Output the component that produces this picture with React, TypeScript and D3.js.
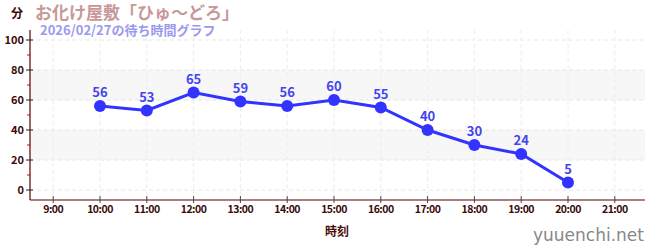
import React from "react";
import * as d3 from "d3";

const hours = ["9:00","10:00","11:00","12:00","13:00","14:00","15:00","16:00","17:00","18:00","19:00","20:00","21:00"];
const dataHours = [10, 11, 12, 13, 14, 15, 16, 17, 18, 19, 20];
const waits = [56, 53, 65, 59, 56, 60, 55, 40, 30, 24, 5];
const yTicks = [0, 20, 40, 60, 80, 100];
const yMinor = [10, 30, 50, 70, 90];
const bands = [[20, 40], [60, 80]];

const W = 650, H = 250;
const font = "'Noto Sans CJK JP', 'Noto Sans', sans-serif";

export default function App() {
  const x = d3.scaleLinear().domain([9, 21]).range([53.2, 614.8]);
  const y = d3.scaleLinear().domain([0, 100]).range([190, 40]);
  const line = d3.line<number>().x((_, i) => x(dataHours[i])).y((d) => y(d));
  const axisColor = "#5a0000";
  const hourVals = hours.map((_, i) => 9 + i);
  return (
    <svg width={W} height={H} style={{ position: "absolute", left: 0, top: 0, background: "#fff" }} fontFamily={font}>
      {bands.map(([a, b], i) => (
        <rect key={i} x={30} width={615} y={y(b)} height={y(a) - y(b)} fill="#f7f7f7" />
      ))}
      {yTicks.map((t) => (
        <line key={"gy" + t} x1={30} x2={645} y1={y(t)} y2={y(t)} stroke="#e6e6e6" strokeDasharray="4,3" />
      ))}
      {hourVals.map((h) => (
        <line key={"gx" + h} x1={x(h)} x2={x(h)} y1={30} y2={200} stroke="#ececec" strokeDasharray="4,3" />
      ))}
      {/* axes */}
      <line x1={30} x2={30} y1={30} y2={200} stroke={axisColor} strokeWidth={1.2} />
      <line x1={30} x2={645} y1={200} y2={200} stroke={axisColor} strokeWidth={1.2} />
      {yTicks.map((t) => (
        <g key={"yt" + t}>
          <line x1={26} x2={33} y1={y(t)} y2={y(t)} stroke="#222" />
          <text x={24} y={y(t)} dy="0.35em" textAnchor="end" fontSize={11} fontWeight="bold" fill="#3a0a0a">{t}</text>
        </g>
      ))}
      {yMinor.map((t) => (
        <line key={"ym" + t} x1={27} x2={30} y1={y(t)} y2={y(t)} stroke="#d00" />
      ))}
      {hours.map((lab, i) => (
        <g key={"xt" + i}>
          <line x1={x(hourVals[i])} x2={x(hourVals[i])} y1={196} y2={203} stroke="#444" />
          <text x={x(hourVals[i])} y={213} textAnchor="middle" fontSize={10.5} fill="#3a0a0a" fontWeight="bold" letterSpacing={-0.5}>{lab}</text>
        </g>
      ))}
      <text x={337} y={236} textAnchor="middle" fontSize={12} fontWeight="bold" fill="#4a0a0a">時刻</text>
      {/* series */}
      <path d={line(waits) || ""} fill="none" stroke="#3333ff" strokeWidth={3} />
      {waits.map((v, i) => (
        <g key={"p" + i}>
          <circle cx={x(dataHours[i])} cy={y(v)} r={6} fill="#3333ff" />
          <text x={x(dataHours[i])} y={y(v) - 9} textAnchor="middle" fontSize={13} fontWeight="bold" fill="#4444ee">{v}</text>
        </g>
      ))}
      {/* titles */}
      <text x={11} y={18} fontSize={12} fontWeight="bold" fill="#3a0a0a">分</text>
      <text x={35} y={19} fontSize={17} fontWeight="bold" fill="#c89898">お化け屋敷「ひゅ～どろ」</text>
      <text x={40} y={35} fontSize={13} fontWeight="bold" fill="#9a9aee">2026/02/27の待ち時間グラフ</text>
      <text x={644} y={241} textAnchor="end" fontSize={17} fill="#888" fontFamily="'DejaVu Sans', sans-serif">yuuenchi.net</text>
    </svg>
  );
}
